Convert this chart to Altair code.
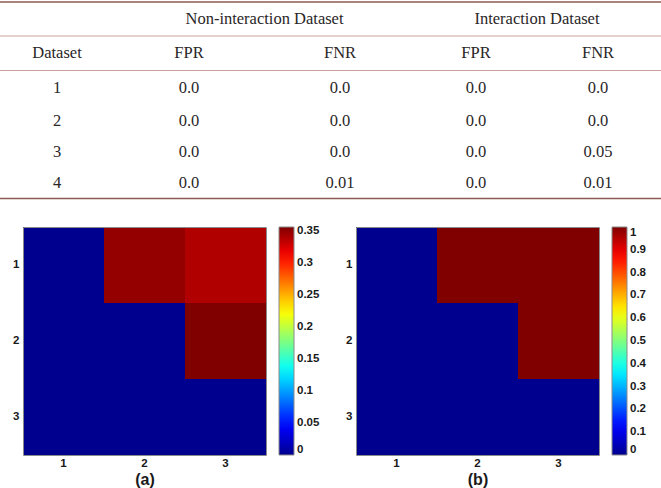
import altair as alt
import pandas as pd

# ---------------- table contents ----------------
group_headers = ["Non-interaction Dataset", "Interaction Dataset"]
column_headers = ["Dataset", "FPR", "FNR", "FPR", "FNR"]
dataset_ids = ["1", "2", "3", "4"]
non_fpr = ["0.0", "0.0", "0.0", "0.0"]
non_fnr = ["0.0", "0.0", "0.0", "0.01"]
int_fpr = ["0.0", "0.0", "0.0", "0.0"]
int_fnr = ["0.0", "0.0", "0.05", "0.01"]

# ---------------- heatmap matrices (row i, column j) ----------------
heat_a = [[0.0, 0.350, 0.340],
          [0.0, 0.0, 0.357],
          [0.0, 0.0, 0.0]]
heat_b = [[0.0, 1.0, 1.0],
          [0.0, 0.0, 1.0],
          [0.0, 0.0, 0.0]]
cells = [1, 2, 3]
cbar_ticks_a = [0, 0.05, 0.1, 0.15, 0.2, 0.25, 0.3, 0.35]
cbar_ticks_b = [0, 0.1, 0.2, 0.3, 0.4, 0.5, 0.6, 0.7, 0.8, 0.9, 1]

# ---------------- layout (pixels) ----------------
W, H = 661, 488
col_px = [57, 189, 340, 476, 598]          # table column centres
row_px = [19, 53, 88, 121, 152, 183]       # table row centres
A_X, B_X = (23, 266), (356, 599)           # heatmap plot extents
HM_Y = (227, 455)
CBAR_A_X, CBAR_B_X = 279, 612

SERIF = "Liberation Serif"
SANS = "Liberation Sans"
INK = "#2a2627"
LABEL_SIZE = 11.5

# jet colormap stops
jet_pos = [0, 0.125, 0.375, 0.625, 0.875, 1]
jet_col = ["#00008F", "#0000FF", "#00FFFF", "#FFFF00", "#FF0000", "#800000"]

# ---------------- table ----------------
rows = []
for k, t in enumerate(group_headers):
    rows.append({"r": 0, "c": 1.5 + 2 * k, "text": t})
for k, t in enumerate(column_headers):
    rows.append({"r": 1, "c": k, "text": t})
for i in range(len(dataset_ids)):
    for k, col in enumerate([dataset_ids, non_fpr, non_fnr, int_fpr, int_fnr]):
        rows.append({"r": 2 + i, "c": k, "text": col[i]})
table_df = pd.DataFrame(rows)

tx = alt.Scale(domain=list(range(len(col_px))), range=col_px, nice=False, zero=False)
ty = alt.Scale(domain=list(range(len(row_px))), range=row_px, nice=False, zero=False)

table_text = alt.Chart(table_df).mark_text(
    font=SERIF, fontSize=16.5, color=INK, baseline="middle", align="center"
).encode(
    x=alt.X("c:Q", scale=tx, axis=None),
    y=alt.Y("r:Q", scale=ty, axis=None),
    text="text:N",
)

# rules sit half a row outside / between the header rows
outer_rules = alt.Chart(pd.DataFrame({"r": [-0.5, len(row_px) - 0.5]})).mark_rule(
    color="#8e5a52", strokeWidth=1.6
).encode(y=alt.Y("r:Q", scale=ty, axis=None))
inner_rules = alt.Chart(pd.DataFrame({"r": [0.5, 1.5]})).mark_rule(
    color="#c9a19b", strokeWidth=1.1
).encode(y=alt.Y("r:Q", scale=ty, axis=None))


# ---------------- heatmaps ----------------
def heat_df(m):
    return pd.DataFrame(
        [{"row": cells[i], "col": cells[j], "v": m[i][j]}
         for i in range(len(m)) for j in range(len(m[i]))]
    )


line_style = dict(ticks=False, grid=False, domainColor="#8a8a8a", domainWidth=1)
axis_style = dict(
    labelFont=SANS, labelFontSize=LABEL_SIZE, labelFontWeight="bold", labelColor="#1a1a1a",
    labelAngle=0, **line_style,
)


def heatmap(m, xr, cbar_x, ticks, fmt, caption):
    df = heat_df(m)
    vmax = max(max(r) for r in m)
    xs = alt.Scale(range=list(xr), paddingInner=0, paddingOuter=0)
    ys = alt.Scale(range=list(HM_Y), paddingInner=0, paddingOuter=0)
    cs = alt.Scale(domain=[vmax * p for p in jet_pos], range=jet_col, interpolate="rgb")
    cells_layer = alt.Chart(df).mark_rect().encode(
        x=alt.X("col:O", scale=xs, axis=alt.Axis(
            orient="bottom", offset=HM_Y[1] - H, title=caption, labelPadding=2,
            titleFont=SANS, titleFontSize=16, titleFontWeight="bold", titleColor="#1a1a1a",
            titlePadding=3, **axis_style)),
        y=alt.Y("row:O", scale=ys, axis=alt.Axis(
            orient="left", offset=-xr[0], title=None, labelPadding=4, **axis_style)),
        color=alt.Color("v:Q", scale=cs, legend=alt.Legend(
            orient="none", legendX=cbar_x, legendY=HM_Y[0], direction="vertical",
            gradientLength=HM_Y[1] - HM_Y[0], gradientThickness=15, padding=0,
            title=None, values=ticks, format=fmt, labelOverlap=False,
            labelFont=SANS, labelFontSize=LABEL_SIZE, labelFontWeight="bold",
            labelColor="#1a1a1a", labelOffset=3, labelBaseline="middle",
            gradientStrokeColor="#8a8a8a", gradientStrokeWidth=1,
        )),
    )
    # top and right edges of the axes box
    frame = alt.Chart(df).mark_rect(opacity=0).encode(
        x=alt.X("col:O", scale=xs, axis=alt.Axis(
            orient="top", offset=-HM_Y[0], labels=False, title=None, **line_style)),
        y=alt.Y("row:O", scale=ys, axis=alt.Axis(
            orient="right", offset=xr[1] - W, labels=False, title=None, **line_style)),
    )
    return [cells_layer, frame]


layers = [outer_rules, inner_rules, table_text]
layers += heatmap(heat_a, A_X, CBAR_A_X, cbar_ticks_a, ".2~f", "(a)")
layers += heatmap(heat_b, B_X, CBAR_B_X, cbar_ticks_b, ".1~f", "(b)")

chart = alt.layer(*layers).resolve_scale(
    x="independent", y="independent", color="independent"
).properties(
    width=W, height=H, padding=0, autosize=alt.AutoSizeParams(type="none"),
    background="white",
).configure_view(stroke="transparent")

chart.save("out.html", embed_options={"renderer": "svg", "actions": False})
